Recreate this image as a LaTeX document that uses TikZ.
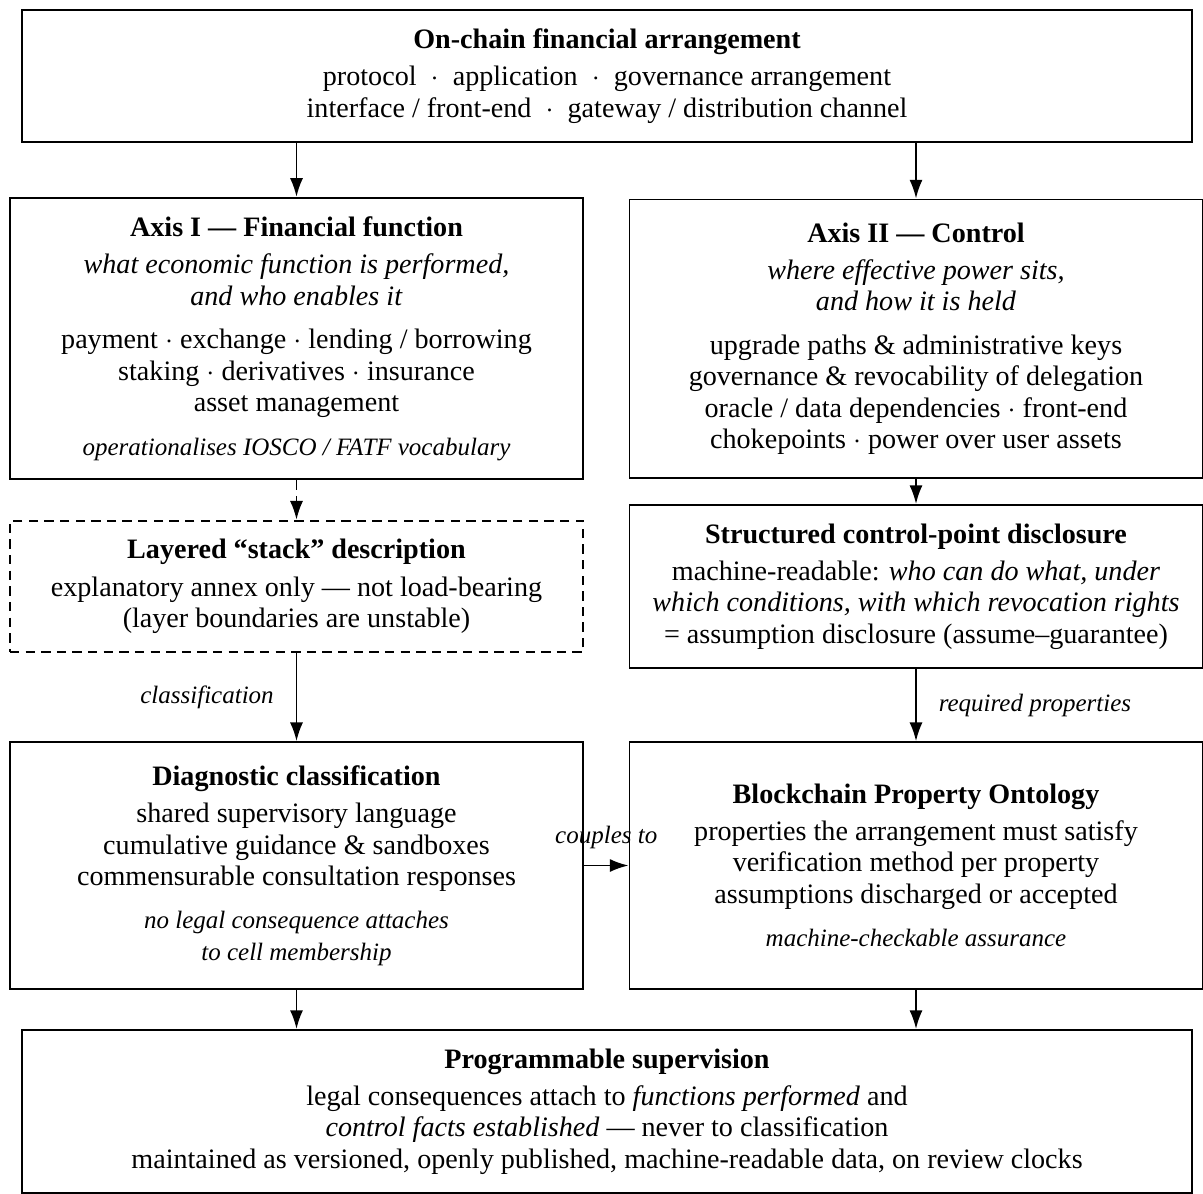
\documentclass[tikz,border=0pt]{standalone}
\usepackage{fontspec}
\setmainfont{Liberation Serif}
\usetikzlibrary{arrows.meta}

\tikzset{
  panel/.style={draw, line width=0.6pt, align=center, inner sep=6pt, minimum width=183.4pt, font=\fontsize{9}{10}\selectfont},
  widepanel/.style={panel, minimum width=374.4pt},
  ghostpanel/.style={panel, densely dashed},
  flow/.style={line width=0.6pt, -{Latex[length=6pt,width=4.2pt]}},
  flowtag/.style={inner sep=0pt, font=\fontsize{8}{9}\selectfont\itshape}
}
\newcommand{\note}[1]{{\fontsize{8}{9}\selectfont\itshape #1}}

\begin{document}
\begin{tikzpicture}[x=0.32pt,y=0.32pt,yscale=-1]
\useasboundingbox (0,0) rectangle (1203,1194);

%Shape: Rectangle
\node[widepanel] (arrangement) at (607,76) {\textbf{On-chain financial arrangement}\\[2pt]
  protocol\enspace$\cdot$\enspace application\enspace$\cdot$\enspace governance arrangement\\
  interface / front-end\enspace$\cdot$\enspace gateway / distribution channel};
%Shape: Rectangle
\node[panel] (axisfun) at (296.5,338.5) {\textbf{Axis I --- Financial function}\\[2pt]
  \textit{what economic function is performed,}\\
  \textit{and who enables it}\\[4pt]
  payment $\cdot$ exchange $\cdot$ lending / borrowing\\
  staking $\cdot$ derivatives $\cdot$ insurance\\
  asset management\\[4pt]
  \note{operationalises IOSCO / FATF vocabulary}};
%Shape: Rectangle
\node[panel, minimum height=89pt] (axisctl) at (916,338.5) {\textbf{Axis II --- Control}\\[2pt]
  \textit{where effective power sits,}\\
  \textit{and how it is held}\\[4pt]
  upgrade paths \& administrative keys\\
  governance \& revocability of delegation\\
  oracle / data dependencies $\cdot$ front-end\\
  chokepoints $\cdot$ power over user assets};
%Shape: Rectangle
\node[ghostpanel] (stack) at (296.5,586.5) {\textbf{Layered ``stack'' description}\\[2pt]
  explanatory annex only --- not load-bearing\\
  (layer boundaries are unstable)};
%Shape: Rectangle
\node[panel] (disclosure) at (916,586.5) {\textbf{Structured control-point disclosure}\\[2pt]
  machine-readable: \textit{who can do what, under}\\
  \textit{which conditions, with which revocation rights}\\
  = assumption disclosure (assume--guarantee)};
%Shape: Rectangle
\node[panel, minimum height=79pt] (diagnostic) at (296.5,865.5) {\textbf{Diagnostic classification}\\[2pt]
  shared supervisory language\\
  cumulative guidance \& sandboxes\\
  commensurable consultation responses\\[4pt]
  \note{no legal consequence attaches}\\
  \note{to cell membership}};
%Shape: Rectangle
\node[panel, minimum height=79pt] (ontology) at (916,865.5) {\textbf{Blockchain Property Ontology}\\[2pt]
  properties the arrangement must satisfy\\
  verification method per property\\
  assumptions discharged or accepted\\[4pt]
  \note{machine-checkable assurance}};
%Shape: Rectangle
\node[widepanel, anchor=north] (supervision) at (607,1029) {\textbf{Programmable supervision}\\[2pt]
  legal consequences attach to \textit{functions performed} and\\
  \textit{control facts established} --- never to classification\\
  maintained as versioned, openly published, machine-readable data, on review clocks};

%Straight Lines
\draw[flow] (axisfun.north |- arrangement.south) -- (axisfun.north);
\draw[flow] (axisctl.north |- arrangement.south) -- (axisctl.north);
%Straight Lines
\draw[flow, densely dashed] (axisfun.south) -- (stack.north);
\draw[flow] (stack.south) -- node[flowtag, left=7pt] {classification} (diagnostic.north);
%Straight Lines
\draw[flow] (axisctl.south) -- (disclosure.north);
\draw[flow] (disclosure.south) -- node[flowtag, right=7pt] {required properties} (ontology.north);
%Straight Lines
\draw[flow] (diagnostic.east) -- node[flowtag, above=5pt] {couples to} (ontology.west);
%Straight Lines
\draw[flow] (diagnostic.south) -- (diagnostic.south |- supervision.north);
\draw[flow] (ontology.south) -- (ontology.south |- supervision.north);

\end{tikzpicture}
\end{document}
